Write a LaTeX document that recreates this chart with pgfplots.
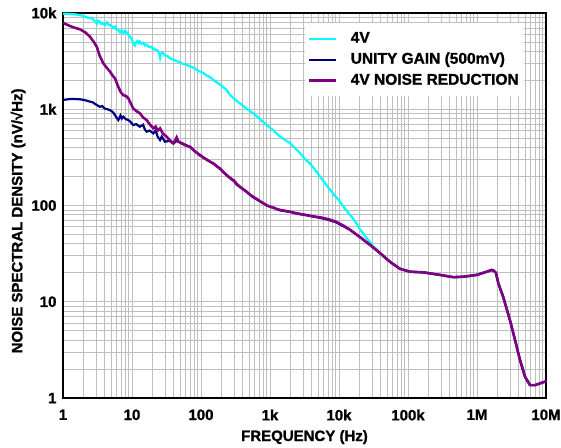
\documentclass[border=0pt]{standalone}
\usepackage{pgfplots}
\pgfplotsset{compat=1.18}
\usepackage{fontspec}
\setmainfont{Liberation Sans}[BoldFont={Liberation Sans Bold}, BoldFeatures={FakeBold=1.2}]
\definecolor{cyanl}{RGB}{0,255,255}
\definecolor{navyl}{RGB}{0,0,128}
\definecolor{purpl}{RGB}{128,0,128}
\begin{document}
\begin{tikzpicture}
\path[use as bounding box] (0,0) rectangle (561pt,447pt);
\begin{axis}[
  at={(63pt,49pt)}, anchor=south west,
  scale only axis, width=483pt, height=385pt,
  xmode=log, ymode=log,
  xmin=1, xmax=1e7, ymin=1, ymax=1e4,
  xtick={1,10,100,1000,10000,100000,1000000,10000000},
  xticklabels={1,10,100,1k,10k,100k,1M,10M},
  ytick={1,10,100,1000,10000},
  yticklabels={1,10,100,1k,10k},
  minor xtick={2,3,4,5,6,7,8,9,20,30,40,50,60,70,80,90,200,300,400,500,600,700,800,900,2000,3000,4000,5000,6000,7000,8000,9000,20000,30000,40000,50000,60000,70000,80000,90000,200000,300000,400000,500000,600000,700000,800000,900000,2000000,3000000,4000000,5000000,6000000,7000000,8000000,9000000},
  minor ytick={2,3,4,5,6,7,8,9,20,30,40,50,60,70,80,90,200,300,400,500,600,700,800,900,2000,3000,4000,5000,6000,7000,8000,9000},
  grid=both,
  major grid style={black!25, line width=0.8pt},
  minor grid style={black!25, line width=0.8pt},
  major tick length=0pt, minor tick length=0pt,
  axis line style={black, line width=1.5pt},
  every tick label/.append style={font=\bfseries\fontsize{15}{18}\selectfont},
  xticklabel style={yshift=-8pt},
  yticklabel style={xshift=-3pt},
  xlabel={FREQUENCY (Hz)},
  ylabel={NOISE SPECTRAL DENSITY (nV/\char"221AHz)},
  label style={font=\bfseries\fontsize{15}{18}\selectfont},
  xlabel style={at={(axis description cs:0.5,-0.1117)}, anchor=base},
  ylabel style={at={(axis description cs:-0.0932,0.46)}, anchor=center},
  legend style={at={(axis description cs:0.501,0.974)}, anchor=north west,
    draw=none, fill=white, inner xsep=3pt, inner ysep=5pt,
    font=\bfseries\fontsize{15.5}{18}\selectfont,
    nodes={text height=11pt, text depth=3pt, inner ysep=3.5pt},
    row sep=0pt,
    /tikz/every odd column/.append style={column sep=11pt}},
  legend cell align=left,
  legend image code/.code={\draw[#1] (0pt,0pt) -- (27pt,0pt);},
  every axis plot/.append style={line width=2.2pt},
]
\addplot[cyanl, mark=none] coordinates {
(1,9800)(1.15,9850)(1.3,9750)(1.5,9700)(1.76,9500)(2.0,9300)(2.2,9000)(2.46,8800)(2.65,8900)(2.8,8400)(3.0,8000)(3.08,7700)(3.2,8300)(3.44,8100)(3.6,7700)(3.8,7900)(4.05,7500)(4.3,8000)(4.55,7600)(4.8,7500)(5.1,7300)(5.36,7000)(5.7,7200)(6.0,6700)(6.3,6700)(6.7,6300)(7.1,6600)(7.48,6150)(7.9,6500)(8.37,6300)(8.9,5900)(9.5,5600)(10.2,5100)(10.6,4750)(11,4600)(11.5,5000)(12,5100)(12.6,4850)(13,5050)(13.8,4800)(14.5,4900)(15.4,4600)(16.3,4700)(17.5,4450)(19,4450)(20.5,4200)(22.8,4150)(24,4000)(25,3700)(25.5,3450)(26,3750)(27,3850)(28.5,3800)(30.5,3600)(33,3550)(36,3350)(39.8,3280)(45,3150)(50,3080)(55,2950)(62,2900)(70,2780)(80,2680)(88,2550)(97,2460)(108,2380)(120,2250)(135,2150)(151,2020)(170,1900)(190,1800)(210,1700)(236,1580)(260,1420)(294,1310)(330,1220)(367,1150)(410,1080)(450,1020)(510,960)(573,905)(640,850)(700,800)(790,740)(895,690)(1000,640)(1117,605)(1250,560)(1396,520)(1650,480)(1950,445)(2300,395)(2720,350)(3200,305)(3800,272)(4500,235)(5300,200)(6300,170)(7400,146)(8800,125)(10300,110)(12000,94)(13600,84)(15300,76)(18000,65)(20000,57)(22500,51)(25000,46)(28000,42)(31000,38)(35200,35)(39300,32)(54800,26)(76500,22)(107000,20.5)(167000,20.2)(291000,19)(454000,18)(634000,18.2)(990000,19)(1380000,20.5)(1630000,21.4)(1750000,21)(1880000,20)(2040000,15.5)(2400000,11.2)(3000000,6.45)(3560000,4.0)(4200000,2.48)(4970000,1.66)(5870000,1.36)(6940000,1.36)(8200000,1.42)(9700000,1.48)(10000000,1.5)
};
\addlegendentry{4V}
\addplot[navyl, mark=none] coordinates {
(1,1250)(1.3,1280)(1.76,1270)(2.1,1240)(2.46,1200)(2.7,1180)(3,1120)(3.44,1060)(3.7,1080)(4,1020)(4.4,1000)(4.8,980)(5.2,940)(5.5,900)(5.9,830)(6.33,773)(6.8,860)(7.1,800)(7.48,837)(8.1,790)(8.85,773)(9.5,740)(10.4,686)(11.5,700)(13,659)(14.5,690)(15.3,620)(16.3,585)(18,600)(20.4,562)(22,600)(23.5,520)(25.5,479)(27,520)(30,460)(35,470)(39.8,440)(44.4,470)(52.5,445)(69.3,405)(80,372)(97,330)(120,302)(151,272)(190,242)(236,205)(300,182)(367,155)(450,141)(573,121)(700,112)(895,100)(1117,95)(1396,89)(1950,86)(2440,82)(3200,80)(4250,77)(5500,74)(7000,71)(9000,67)(11500,61)(14400,56)(20100,47)(28100,39)(39300,32)(54800,26)(76500,22)(107000,20.5)(167000,20.2)(291000,19)(454000,18)(634000,18.2)(990000,19)(1380000,20.5)(1630000,21.4)(1750000,21)(1880000,20)(2040000,15.5)(2400000,11.2)(3000000,6.45)(3560000,4.0)(4200000,2.48)(4970000,1.66)(5870000,1.36)(6940000,1.36)(8200000,1.42)(9700000,1.48)(10000000,1.5)
};
\addlegendentry{UNITY GAIN (500mV)}
\addplot[purpl, mark=none, line width=2.6pt] coordinates {
(1,7900)(1.26,7330)(1.5,7000)(1.76,6770)(2.1,6300)(2.46,5670)(2.8,5000)(3.08,4470)(3.4,3600)(3.84,3000)(4.3,2700)(4.8,2460)(5.2,2250)(5.67,2090)(6.33,1710)(6.9,1500)(7.48,1400)(8.1,1380)(8.85,1300)(9.6,1150)(10.4,1020)(11.5,960)(13,910)(14.5,820)(16.3,773)(18,700)(20.4,633)(22,660)(23.5,600)(25.5,633)(28,560)(31.8,518)(35,480)(39.8,443)(42,470)(44.4,510)(47,460)(52.5,443)(60,420)(69.3,408)(80,370)(88,350)(97,335)(108,315)(120,300)(135,285)(151,274)(170,255)(190,240)(210,222)(236,207)(265,192)(300,180)(330,165)(367,157)(410,147)(450,140)(510,130)(573,123)(640,117)(700,112)(790,106)(895,101)(1000,97)(1117,95)(1250,92)(1396,90)(1650,88)(1950,86)(2440,83)(3200,80)(4250,77)(5500,75)(7000,72)(9000,68)(11500,62)(14400,56)(20100,47)(28100,39)(39300,32)(54800,26)(76500,22)(107000,20.5)(167000,20.2)(291000,19)(454000,18)(634000,18.2)(990000,19)(1380000,20.5)(1630000,21.4)(1750000,21)(1880000,20)(2040000,15.5)(2400000,11.2)(3000000,6.45)(3560000,4.0)(4200000,2.48)(4970000,1.66)(5870000,1.36)(6940000,1.36)(8200000,1.42)(9700000,1.48)(10000000,1.5)
};
\addlegendentry{4V NOISE REDUCTION}
\end{axis}
\end{tikzpicture}
\end{document}
